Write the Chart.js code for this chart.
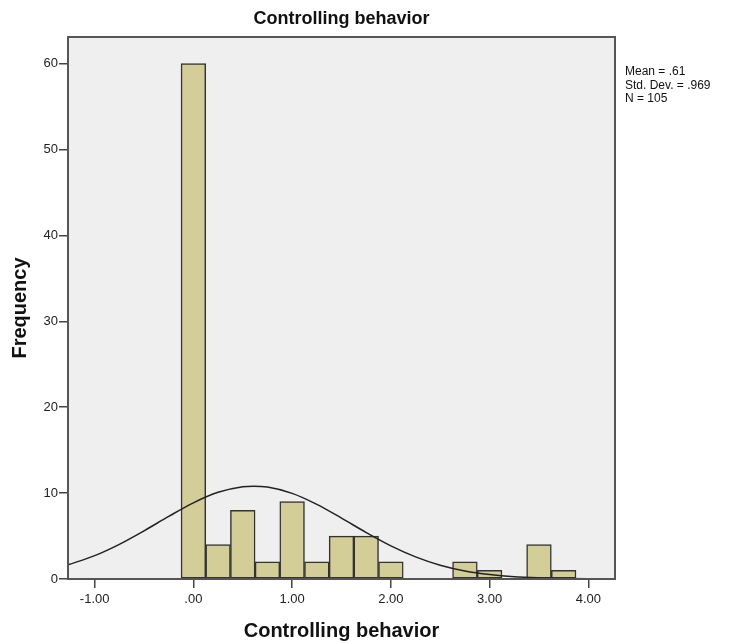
<!DOCTYPE html>
<html>
<head>
<meta charset="utf-8">
<script src="https://cdn.jsdelivr.net/npm/chart.js@4"></script>
<style>
  body { margin: 0; background: #fff; }
  #wrap { width: 730px; height: 643px; }
</style>
</head>
<body>
<div id="wrap"><canvas id="hist" width="730" height="643"></canvas></div>
<script>
// histogram bins (centre of bin) and counts
const binCenters = [0, 0.25, 0.5, 0.75, 1.0, 1.25, 1.5, 1.75, 2.0, 2.75, 3.0, 3.5, 3.75];
const counts = [60, 4, 8, 2, 9, 2, 5, 5, 2, 2, 1, 4, 1];
// normal curve
const curveX = [-1.27, -1.0, -0.75, -0.5, -0.25, 0, 0.25, 0.5, 0.61, 0.75, 1.0, 1.25, 1.5, 1.75, 2.0, 2.25, 2.5, 2.75, 3.0, 3.25, 3.5, 3.75, 4.0, 4.27];
const curveY = [1.65, 2.72, 4.04, 5.61, 7.29, 8.87, 10.09, 10.74, 10.81, 10.70, 9.97, 8.69, 7.09, 5.41, 3.86, 2.58, 1.61, 0.94, 0.52, 0.26, 0.13, 0.06, 0.02, 0.01];
const xTicks = [-1, 0, 1, 2, 3, 4];
const yTicks = [0, 10, 20, 30, 40, 50, 60];
const statLines = ["Mean = .61", "Std. Dev. = .969", "N = 105"];

const FONT = "'Liberation Sans', Arial, sans-serif";

function fmtX(v) {
  let s = v.toFixed(2);
  if (s.startsWith("0.")) s = s.slice(1);
  return s;
}

// grey plot box + border, title and stats text
const boxPlugin = {
  id: "box",
  beforeDraw(chart) {
    const a = chart.chartArea, c = chart.ctx;
    c.save();
    c.fillStyle = "#efefef";
    c.fillRect(a.left, a.top, a.right - a.left, a.bottom - a.top);
    c.restore();
  },
  afterDraw(chart) {
    const a = chart.chartArea, c = chart.ctx;
    c.save();
    c.strokeStyle = "#555";
    c.lineWidth = 2;
    c.strokeRect(a.left, a.top, a.right - a.left, a.bottom - a.top);
    c.fillStyle = "#111";
    c.font = "bold 18px " + FONT;
    c.textAlign = "center";
    c.textBaseline = "middle";
    c.fillText("Controlling behavior", (a.left + a.right) / 2, 19);
    c.font = "12px " + FONT;
    c.textAlign = "left";
    c.textBaseline = "top";
    statLines.forEach((t, i) => c.fillText(t, a.right + 10, 66 + i * 13.5));
    c.restore();
  }
};

new Chart(document.getElementById("hist"), {
  type: "bar",
  data: {
    datasets: [{
      type: "line",
      data: curveX.map((x, i) => ({ x: x, y: curveY[i] })),
      borderColor: "#222",
      borderWidth: 1.5,
      pointRadius: 0,
      cubicInterpolationMode: "monotone",
      fill: false,
      order: 0
    }, {
      type: "bar",
      data: binCenters.map((x, i) => ({ x: x, y: counts[i] })),
      backgroundColor: "#d3ce97",
      borderColor: "#333",
      borderWidth: 1.5,
      borderSkipped: false,
      barPercentage: 1,
      categoryPercentage: 1,
      order: 1
    }]
  },
  options: {
    responsive: false,
    devicePixelRatio: 1,
    animation: false,
    layout: { padding: { top: 37, right: 115, left: 0, bottom: 0 } },
    plugins: { legend: { display: false }, tooltip: { enabled: false } },
    scales: {
      x: {
        type: "linear",
        offset: false,
        min: -1.27,
        max: 4.27,
        afterBuildTicks: s => { s.ticks = xTicks.map(v => ({ value: v })); },
        afterFit: s => { s.height = 64; },
        ticks: { color: "#222", font: { family: FONT, size: 13 }, padding: 4, callback: v => fmtX(v), maxRotation: 0 },
        grid: { offset: false, drawOnChartArea: false, tickLength: 9, color: "#444", lineWidth: 1.5 },
        border: { color: "#555", width: 2 },
        title: { display: true, text: "Controlling behavior", color: "#111", font: { family: FONT, size: 20, weight: "bold" }, padding: { top: 2, bottom: 0 } }
      },
      y: {
        min: 0,
        max: 63.1,
        afterBuildTicks: s => { s.ticks = yTicks.map(v => ({ value: v })); },
        afterFit: s => { s.width = 68; },
        ticks: { color: "#222", font: { family: FONT, size: 13 }, padding: 1 },
        grid: { drawOnChartArea: false, tickLength: 9, color: "#444", lineWidth: 1.5 },
        border: { color: "#555", width: 2 },
        title: { display: true, text: "Frequency", color: "#111", font: { family: FONT, size: 20, weight: "bold" }, padding: { top: 8, bottom: 0 } }
      }
    }
  },
  plugins: [boxPlugin]
});
</script>
</body>
</html>
